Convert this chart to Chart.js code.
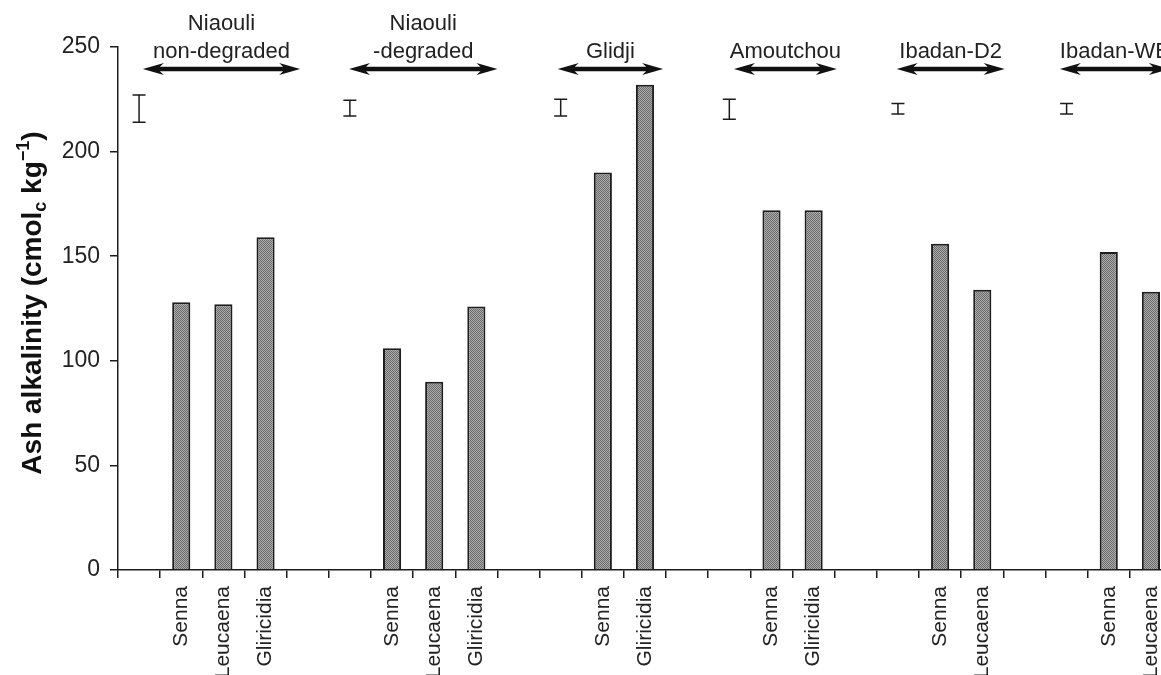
<!DOCTYPE html>
<html>
<head>
<meta charset="utf-8">
<script src="https://cdn.jsdelivr.net/npm/chart.js@4.4.1/dist/chart.umd.min.js"></script>
<style>
  html, body { margin: 0; padding: 0; background: #fff; overflow: hidden; width: 1161px; height: 675px; }
  #wrap { position: absolute; left: 0; top: 0; width: 1185px; height: 675px; }
</style>
</head>
<body>
<div id="wrap"><canvas id="c" width="1185" height="675"></canvas></div>
<script>
// ---- data ----
const categories = ['', 'Senna', 'Leucaena', 'Gliricidia', '', '', 'Senna', 'Leucaena', 'Gliricidia', '', '',
  'Senna', 'Gliricidia', '', '', 'Senna', 'Gliricidia', '', '', 'Senna', 'Leucaena', '', '', 'Senna', 'Leucaena'];
const ashAlkalinity = [null, 128, 127, 159, null, null, 106, 90, 126, null, null,
  190, 232, null, null, 172, 172, null, null, 156, 134, null, null, 152, 133];
const yTicks = [0, 50, 100, 150, 200, 250];

// error bars (category index, low, high)
const errorCats = [0, 5, 10, 14, 18, 22];
const errorLow  = [214, 217, 217, 215.5, 218, 218];
const errorHigh = [227, 224.5, 225, 225, 223, 223];

// site groups: arrow span in category units
const siteNames = [['Niaouli', 'non-degraded'], ['Niaouli', '-degraded'], ['Glidji'], ['Amoutchou'], ['Ibadan-D2'], ['Ibadan-WB']];
const arrowFrom = [0.09, 4.98, 9.93, 14.11, 17.97, 21.84];
const arrowTo   = [3.82, 8.50, 12.43, 16.55, 20.53, 24.45];
const arrowLevel = 239.5;

// ---- styles ----
Chart.defaults.font.family = "'Liberation Sans', Arial, Helvetica, sans-serif";
Chart.defaults.color = '#222';
const INK = '#1c1c1c';

const pc = document.createElement('canvas');
pc.width = 2; pc.height = 2;
const pctx = pc.getContext('2d');
pctx.fillStyle = '#aaaaaa'; pctx.fillRect(0, 0, 2, 2);
pctx.fillStyle = '#6c6c6c'; pctx.fillRect(0, 0, 1, 1); pctx.fillRect(1, 1, 1, 1);
const ctx = document.getElementById('c').getContext('2d');
const hatch = ctx.createPattern(pc, 'repeat');

const annotations = {
  id: 'annotations',
  afterDatasetsDraw(chart) {
    const c = chart.ctx, xs = chart.scales.x, ys = chart.scales.y;
    c.save();
    // error bars
    c.strokeStyle = INK; c.lineWidth = 1.5;
    errorCats.forEach((cat, i) => {
      const x = xs.getPixelForValue(cat);
      const y1 = ys.getPixelForValue(errorHigh[i]);
      const y2 = ys.getPixelForValue(errorLow[i]);
      c.beginPath();
      c.moveTo(x, y1); c.lineTo(x, y2);
      c.moveTo(x - 6.5, y1); c.lineTo(x + 6.5, y1);
      c.moveTo(x - 6.5, y2); c.lineTo(x + 6.5, y2);
      c.stroke();
    });
    // arrows + names
    const ay = ys.getPixelForValue(arrowLevel);
    c.fillStyle = '#111';
    arrowFrom.forEach((a, i) => {
      const x1 = xs.getPixelForValue(a), x2 = xs.getPixelForValue(arrowTo[i]);
      c.beginPath();
      c.moveTo(x1, ay);
      c.lineTo(x1 + 21, ay - 6);
      c.lineTo(x1 + 17, ay - 2.2);
      c.lineTo(x2 - 17, ay - 2.2);
      c.lineTo(x2 - 21, ay - 6);
      c.lineTo(x2, ay);
      c.lineTo(x2 - 21, ay + 6);
      c.lineTo(x2 - 17, ay + 2.2);
      c.lineTo(x1 + 17, ay + 2.2);
      c.lineTo(x1 + 21, ay + 6);
      c.closePath();
      c.fill();
    });
    c.fillStyle = '#222';
    c.font = "22px 'Liberation Sans', Arial, sans-serif";
    c.textAlign = 'center'; c.textBaseline = 'middle';
    siteNames.forEach((lines, i) => {
      const xm = (xs.getPixelForValue(arrowFrom[i]) + xs.getPixelForValue(arrowTo[i])) / 2;
      const n = lines.length;
      lines.forEach((t, j) => {
        c.fillText(t, xm, ay - 17 - (n - 1 - j) * 28);
      });
    });
    c.restore();
  },
  afterDraw(chart) {
    const c = chart.ctx;
    const parts = [
      { t: 'Ash alkalinity (cmol', f: "bold 28px 'Liberation Sans', Arial, sans-serif", dy: 0 },
      { t: 'c', f: "bold 18px 'Liberation Sans', Arial, sans-serif", dy: 5 },
      { t: ' kg', f: "bold 28px 'Liberation Sans', Arial, sans-serif", dy: 0 },
      { t: '\u22121', f: "bold 18px 'Liberation Sans', Arial, sans-serif", dy: -12 },
      { t: ')', f: "bold 28px 'Liberation Sans', Arial, sans-serif", dy: 0 }
    ];
    c.save();
    let total = 0;
    parts.forEach(p => { c.font = p.f; p.w = c.measureText(p.t).width; total += p.w; });
    c.translate(31, 303);
    c.rotate(-Math.PI / 2);
    c.fillStyle = '#111';
    c.textAlign = 'left'; c.textBaseline = 'alphabetic';
    let x = -total / 2;
    parts.forEach(p => { c.font = p.f; c.fillText(p.t, x, 9.5 + p.dy); x += p.w; });
    c.restore();
  }
};

new Chart(ctx, {
  type: 'bar',
  data: {
    labels: categories,
    datasets: [{
      data: ashAlkalinity,
      backgroundColor: hatch,
      borderColor: '#1e1e1e',
      borderWidth: 2,
      barPercentage: 0.43,
      categoryPercentage: 1.0
    }]
  },
  options: {
    responsive: false,
    animation: false,
    devicePixelRatio: 1,
    layout: { padding: { top: 47, right: 13, left: 0, bottom: 0 } },
    plugins: { legend: { display: false }, tooltip: { enabled: false } },
    scales: {
      x: {
        offset: true,
        grid: { display: true, offset: true, drawOnChartArea: false, drawTicks: true, tickLength: 8, color: INK, lineWidth: 1.5 },
        border: { display: true, color: INK, width: 1.5 },
        ticks: { autoSkip: false, maxRotation: 90, minRotation: 90, padding: 8, color: '#222', font: { size: 21 } },
        afterFit(s) { s.height = 105; }
      },
      y: {
        min: 0, max: 250,
        afterBuildTicks(s) { s.ticks = yTicks.map(v => ({ value: v })); },
        grid: { display: true, drawOnChartArea: false, drawTicks: true, tickLength: 8, color: INK, lineWidth: 1.5 },
        border: { display: true, color: INK, width: 1.5 },
        ticks: { padding: 10, color: '#222', font: { size: 23 } },
        afterFit(s) { s.width = 118; }
      }
    }
  },
  plugins: [annotations]
});
</script>
</body>
</html>
